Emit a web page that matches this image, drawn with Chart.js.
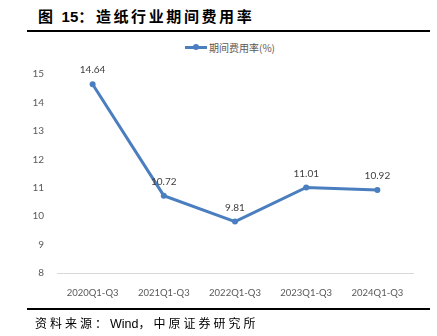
<!DOCTYPE html>
<html><head><meta charset="utf-8">
<script src="https://cdn.jsdelivr.net/npm/chart.js@4"></script>
<style>
html,body{margin:0;padding:0;background:#fff;width:437px;height:336px;overflow:hidden;}
#wrap{position:relative;width:437px;height:336px;}
#title{position:absolute;left:38px;top:5px;font:bold 15px "Noto Sans CJK SC";color:#000;white-space:nowrap;}
#title .cj{letter-spacing:2.6px;}
#title .num{font-family:"Liberation Sans";font-weight:bold;}
#rule1{position:absolute;left:27px;top:30px;width:403px;height:2px;background:#000;}
#rule2{position:absolute;left:27px;top:308px;width:403px;height:2px;background:#000;}
#src{position:absolute;left:35px;top:314px;font:12px "Noto Sans CJK SC";color:#000;white-space:nowrap;}
#src .cj{letter-spacing:3px;}
#src .en{font-family:"Liberation Sans";font-size:12.5px;}
#legend{position:absolute;left:185px;top:40px;font:10px "Noto Sans CJK SC";color:#595959;white-space:nowrap;display:flex;align-items:center;}
#legend .mk{position:relative;width:22px;height:3px;background:#4A7EBF;margin-right:2px;}
#legend .mk i{position:absolute;left:8px;top:-2px;width:6px;height:6px;border-radius:50%;background:#4A7EBF;}
canvas{position:absolute;left:0;top:0;}
</style></head>
<body><div id="wrap">
<div id="title"><span class="cj">图 </span><span class="num">15</span><span class="cj">：造纸行业期间费用率</span></div>
<div id="rule1"></div>
<div id="legend"><span class="mk"><i></i></span><span id="legtext"></span></div>
<canvas id="c" width="437" height="336"></canvas>
<div id="rule2"></div>
<div id="src"><span class="cj">资料来源：</span><span class="en">Wind</span><span class="cj">，中原证券研究所</span></div>
</div>
<script>
const categories = ["2020Q1-Q3","2021Q1-Q3","2022Q1-Q3","2023Q1-Q3","2024Q1-Q3"];
const seriesName = "期间费用率(%)";
const values = [14.64, 10.72, 9.81, 11.01, 10.92];
const yTicks = [8,9,10,11,12,13,14,15];
document.getElementById('legtext').textContent = seriesName;
const lineColor = '#4A7EBF';
const labelPlugin = {
  id:'dl',
  afterDatasetsDraw(chart){
    const ctx = chart.ctx; const meta = chart.getDatasetMeta(0);
    ctx.save(); ctx.font = '10px Lato'; ctx.fillStyle = '#404040';
    ctx.textAlign = 'center'; ctx.textBaseline = 'middle';
    meta.data.forEach((p,i)=>{ ctx.fillText(values[i].toFixed(2), p.x, p.y - 14); });
    ctx.restore();
  }
};
new Chart(document.getElementById('c'), {
  type:'line',
  data:{labels:categories, datasets:[{label:seriesName, data:values, borderColor:lineColor, backgroundColor:lineColor, borderWidth:3, pointRadius:3, pointBackgroundColor:lineColor, pointBorderWidth:0, tension:0}]},
  options:{
    responsive:false, animation:false, devicePixelRatio:1,
    layout:{padding:{left:0,right:24,top:74,bottom:0}},
    plugins:{legend:{display:false}, tooltip:{enabled:false}},
    scales:{
      y:{min:8,max:15,afterBuildTicks(s){s.ticks = yTicks.map(v=>({value:v}));},
         afterFit(s){s.width = 57;},
         grid:{display:false}, border:{display:false},
         ticks:{padding:5,color:'#595959',font:{family:'Lato',size:10}}},
      x:{offset:true, afterFit(s){s.height = 63;},
         grid:{display:false,offset:true}, border:{display:true,color:'#d9d9d9',width:1},
         ticks:{padding:6,color:'#595959',font:{family:'Lato',size:9.5},maxRotation:0}}
    }
  },
  plugins:[labelPlugin]
});
</script>
</body></html>
